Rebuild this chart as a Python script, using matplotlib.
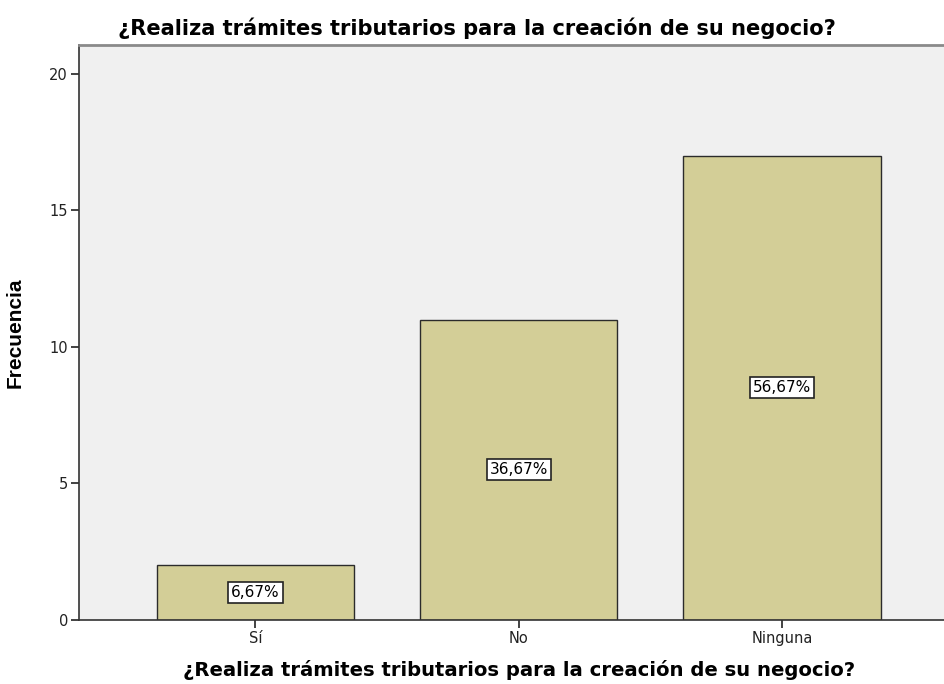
import matplotlib
matplotlib.use("Agg")
import matplotlib.pyplot as plt

categorias = ["Sí", "No", "Ninguna"]
frecuencias = [2, 11, 17]
porcentajes = ["6,67%", "36,67%", "56,67%"]
titulo = "¿Realiza trámites tributarios para la creación de su negocio?"

plt.rcParams['font.family'] = ['DejaVu Sans']

fig = plt.figure(figsize=(9.44, 6.84), dpi=100)
ax = fig.add_axes([0.0837, 0.0936, 0.9163, 0.8406])
ax.set_facecolor('#F0F0F0')

x = range(len(categorias))
bars = ax.bar(x, frecuencias, width=0.75, color='#D3CE97', edgecolor='#2b2b2b', linewidth=1.0, zorder=2)

for b, txt in zip(bars, porcentajes):
    ax.text(b.get_x() + b.get_width() / 2, b.get_height() / 2, txt,
            ha='center', va='center', fontsize=11, zorder=3,
            bbox=dict(boxstyle='square,pad=0.2', facecolor='white', edgecolor='#222222', linewidth=1.2))

ax.set_xlim(-0.67, 2.615)
ax.set_ylim(0, 21.06)
ax.set_yticks([0, 5, 10, 15, 20])
ax.set_xticks(list(x))
ax.set_xticklabels(categorias)
ax.tick_params(axis='both', labelsize=10.5, length=6, width=1.2, color='#222222', pad=2, labelcolor='#222222')

ax.spines['top'].set_color('#8a8a8a')
ax.spines['top'].set_linewidth(2)
ax.spines['right'].set_visible(False)
ax.spines['left'].set_color('#333333')
ax.spines['bottom'].set_color('#333333')
ax.spines['left'].set_linewidth(1.2)
ax.spines['bottom'].set_linewidth(1.2)

# titulo un poco a la izquierda del centro, como en el original
fig.text(477 / 944, 1 - 35 / 684, titulo, ha='center', va='baseline',
         fontsize=15.15, fontweight='bold')
ax.set_xlabel(titulo, fontsize=14.1, fontweight='bold', labelpad=10)
ax.xaxis.label.set_x(0.509)
ax.set_ylabel("Frecuencia", fontsize=15, fontweight='bold', labelpad=18,
              family=['Liberation Sans', 'DejaVu Sans'])

fig.savefig("out.png", dpi=100)
